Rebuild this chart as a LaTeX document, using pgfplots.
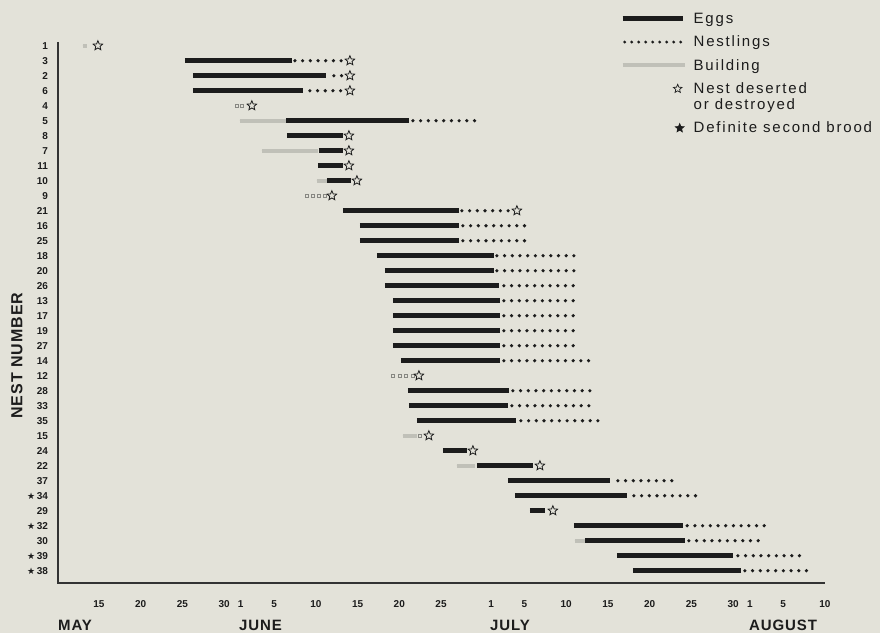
\documentclass[border=0pt]{standalone}
\usepackage{fontspec}
\setmainfont{Liberation Sans}
\newfontfamily\symfont{DejaVu Sans}
\newfontfamily\legfont[LetterSpace=12]{Liberation Sans}
\newfontfamily\labfont[LetterSpace=6]{Liberation Sans}
\usepackage{pgfplots}
\usepackage{pgfplotstable}
\pgfplotsset{compat=1.18}
\definecolor{bg}{RGB}{227,226,217}
\definecolor{ink}{RGB}{28,28,28}
\definecolor{bld}{RGB}{192,192,184}
\definecolor{sqc}{RGB}{135,135,130}

\pgfdeclareplotmark{ostar}{%
  \pgfpathmoveto{\pgfpointpolar{90}{\pgfplotmarksize}}%
  \pgfpathlineto{\pgfpointpolar{126}{0.45\pgfplotmarksize}}%
  \pgfpathlineto{\pgfpointpolar{162}{\pgfplotmarksize}}%
  \pgfpathlineto{\pgfpointpolar{198}{0.45\pgfplotmarksize}}%
  \pgfpathlineto{\pgfpointpolar{234}{\pgfplotmarksize}}%
  \pgfpathlineto{\pgfpointpolar{270}{0.45\pgfplotmarksize}}%
  \pgfpathlineto{\pgfpointpolar{306}{\pgfplotmarksize}}%
  \pgfpathlineto{\pgfpointpolar{342}{0.45\pgfplotmarksize}}%
  \pgfpathlineto{\pgfpointpolar{18}{\pgfplotmarksize}}%
  \pgfpathlineto{\pgfpointpolar{54}{0.45\pgfplotmarksize}}%
  \pgfpathclose
  \pgfusepathqfillstroke}

% days counted from 1 May (1 June = 32, 1 July = 62, 1 August = 93)
\pgfplotstableread{
r s e
2 25.31 38.13
3 26.26 42.20
4 26.26 39.45
6 37.41 52.15
7 37.53 44.24
8 41.36 44.24
9 41.24 44.24
10 42.32 45.20
12 44.24 58.14
13 46.28 58.14
14 46.28 58.14
15 48.31 62.33
16 49.27 62.33
17 49.27 62.93
18 50.23 63.05
19 50.23 63.05
20 50.23 63.05
21 50.23 63.05
22 51.19 63.05
24 52.03 64.13
25 52.15 64.01
26 53.11 64.97
28 56.22 59.10
29 60.30 67.01
30 64.01 76.23
31 64.85 78.27
32 66.65 68.45
33 71.92 84.98
34 73.24 85.22
35 77.07 90.97
36 78.99 91.93
}\eggs

\pgfplotstableread{
r s e
2 38.49 44.60
3 43.16 44.20
4 40.28 44.20
6 52.63 60.40
12 58.50 64.60
13 58.62 66.30
14 58.62 66.30
15 62.69 72.30
16 62.69 72.30
17 63.53 72.30
18 63.53 72.15
19 63.53 72.15
20 63.53 72.15
21 63.53 72.15
22 63.53 74.05
24 64.61 74.05
25 64.49 73.95
26 65.57 74.90
30 77.19 84.10
31 79.11 86.90
33 85.50 95.15
34 85.70 94.30
35 91.57 99.35
36 92.41 100.05
}\nestl

\pgfplotstableread{
r s e
1 13.08 13.56
6 31.90 37.41
8 34.53 41.24
10 41.12 42.32
27 51.43 53.10
29 57.90 60.06
34 72.04 73.24
}\build

\pgfplotstableread{
r x
5 31.54
5 32.14
11 39.93
11 40.64
11 41.36
11 42.08
23 50.23
23 51.07
23 51.79
23 52.63
27 53.47
}\bsq

\pgfplotstableread{
r x
1 14.88
2 45.08
3 45.08
4 45.08
5 33.33
7 44.96
8 44.96
9 44.96
10 45.92
11 42.92
12 65.09
23 53.35
27 54.54
28 59.82
29 67.85
32 69.40
}\desert

\pgfplotsset{
  seg/.style={forget plot, only marks, mark=*, mark size=0pt,
    mark options={draw=none, fill=none},
    error bars/.cd, x dir=plus, x explicit, error mark=none,
    error bar style={#1}},
}

\begin{document}
\begin{tikzpicture}
\fill[bg] (0pt,0pt) rectangle (880pt,633pt);
\begin{axis}[
  at={(58pt,50pt)}, anchor=south west,
  scale only axis, width=766.9pt, height=541.05pt,
  xmin=10.1, xmax=102,
  ymin=0.75, ymax=36.82, y dir=reverse,
  axis line style={draw=none},
  major tick length=0pt,
  clip mode=individual,
  xtick={15,20,25,30,32,36,41,46,51,56,62,66,71,76,81,86,91,93,97,102},
  xticklabels={15,20,25,30,1,5,10,15,20,25,1,5,10,15,20,25,30,1,5,10},
  ytick={1,...,36},
  yticklabels={1,3,2,6,4,5,8,7,11,10,9,21,16,25,18,20,26,13,17,19,27,14,12,28,33,35,15,24,22,37,{{\symfont\fontsize{9}{9}\selectfont ★}\,34},29,{{\symfont\fontsize{9}{9}\selectfont ★}\,32},30,{{\symfont\fontsize{9}{9}\selectfont ★}\,39},{{\symfont\fontsize{9}{9}\selectfont ★}\,38}},
  xticklabel style={font=\bfseries\fontsize{10}{12}\selectfont, text=ink, yshift=-14pt},
  yticklabel style={font=\bfseries\fontsize{10}{12}\selectfont, text=ink, xshift=-6.5pt},
  ylabel={NEST NUMBER},
  ylabel style={font=\labfont\bfseries\fontsize{16}{18}\selectfont, text=ink,
    at={(axis description cs:-0.0535,0.42)}, anchor=center},
  legend style={at={(axis description cs:0.7328,1.0575)}, anchor=north west,
    draw=none, fill=none, inner sep=0pt, font=\legfont\fontsize{15}{16}\selectfont,
    text=ink, row sep=7pt, column sep=5pt, nodes={align=left}},
  legend cell align=left,
]
\draw[ink!90, line width=1.4pt] (axis description cs:0,1) -- (axis description cs:0,0) -- (axis description cs:1,0);

\addplot[seg={line width=4pt, bld}] table[x=s, y=r, x error expr=\thisrow{e}-\thisrow{s}] {\build};
\addplot[forget plot, only marks, mark=square, mark size=1.5pt, mark options={draw=sqc, line width=0.6pt}] table[x=x, y=r] {\bsq};
\addplot[seg={line width=5.3pt, ink}] table[x=s, y=r, x error expr=\thisrow{e}-\thisrow{s}] {\eggs};
\addplot[seg={line width=3.6pt, ink, line cap=round, dash pattern=on 0pt off 7.7pt}] table[x=s, y=r, x error expr=\thisrow{e}-\thisrow{s}] {\nestl};
\addplot[forget plot, only marks, mark=ostar, mark size=5pt, mark options={fill=bg, draw=ink, line width=0.8pt}] table[x=x, y=r] {\desert};

\addlegendimage{legend image code/.code={\draw[line width=5pt, ink] (0pt,0pt) -- (60pt,0pt);}}
\addlegendentry{Eggs}
\addlegendimage{legend image code/.code={\draw[line width=3.2pt, ink, line cap=round, dash pattern=on 0pt off 7pt] (2pt,0pt) -- (59pt,0pt);}}
\addlegendentry{Nestlings}
\addlegendimage{legend image code/.code={\draw[line width=4pt, bld] (0pt,0pt) -- (62pt,0pt);}}
\addlegendentry{Building}
\addlegendimage{legend image code/.code={\draw plot[only marks, mark=ostar, mark size=4.5pt, mark options={fill=bg, draw=ink, line width=0.7pt}] coordinates {(55pt,8pt)};}}
\addlegendentry{Nest deserted\\or destroyed}
\addlegendimage{legend image code/.code={\draw plot[only marks, mark=ostar, mark size=4.5pt, mark options={fill=ink, draw=ink, line width=0.7pt}] coordinates {(57pt,0pt)};}}
\addlegendentry{Definite second brood}
\end{axis}
\begin{scope}[font=\labfont\bfseries\fontsize{15}{18}\selectfont, text=ink]
\node[anchor=base west, inner sep=0pt] at (58pt,3pt) {MAY};
\node[anchor=base west, inner sep=0pt] at (239pt,3pt) {JUNE};
\node[anchor=base west, inner sep=0pt] at (490pt,3pt) {JULY};
\node[anchor=base west, inner sep=0pt] at (749pt,3pt) {AUGUST};
\end{scope}
\pgfresetboundingbox
\path[use as bounding box] (0pt,0pt) rectangle (880pt,633pt);
\end{tikzpicture}
\end{document}
